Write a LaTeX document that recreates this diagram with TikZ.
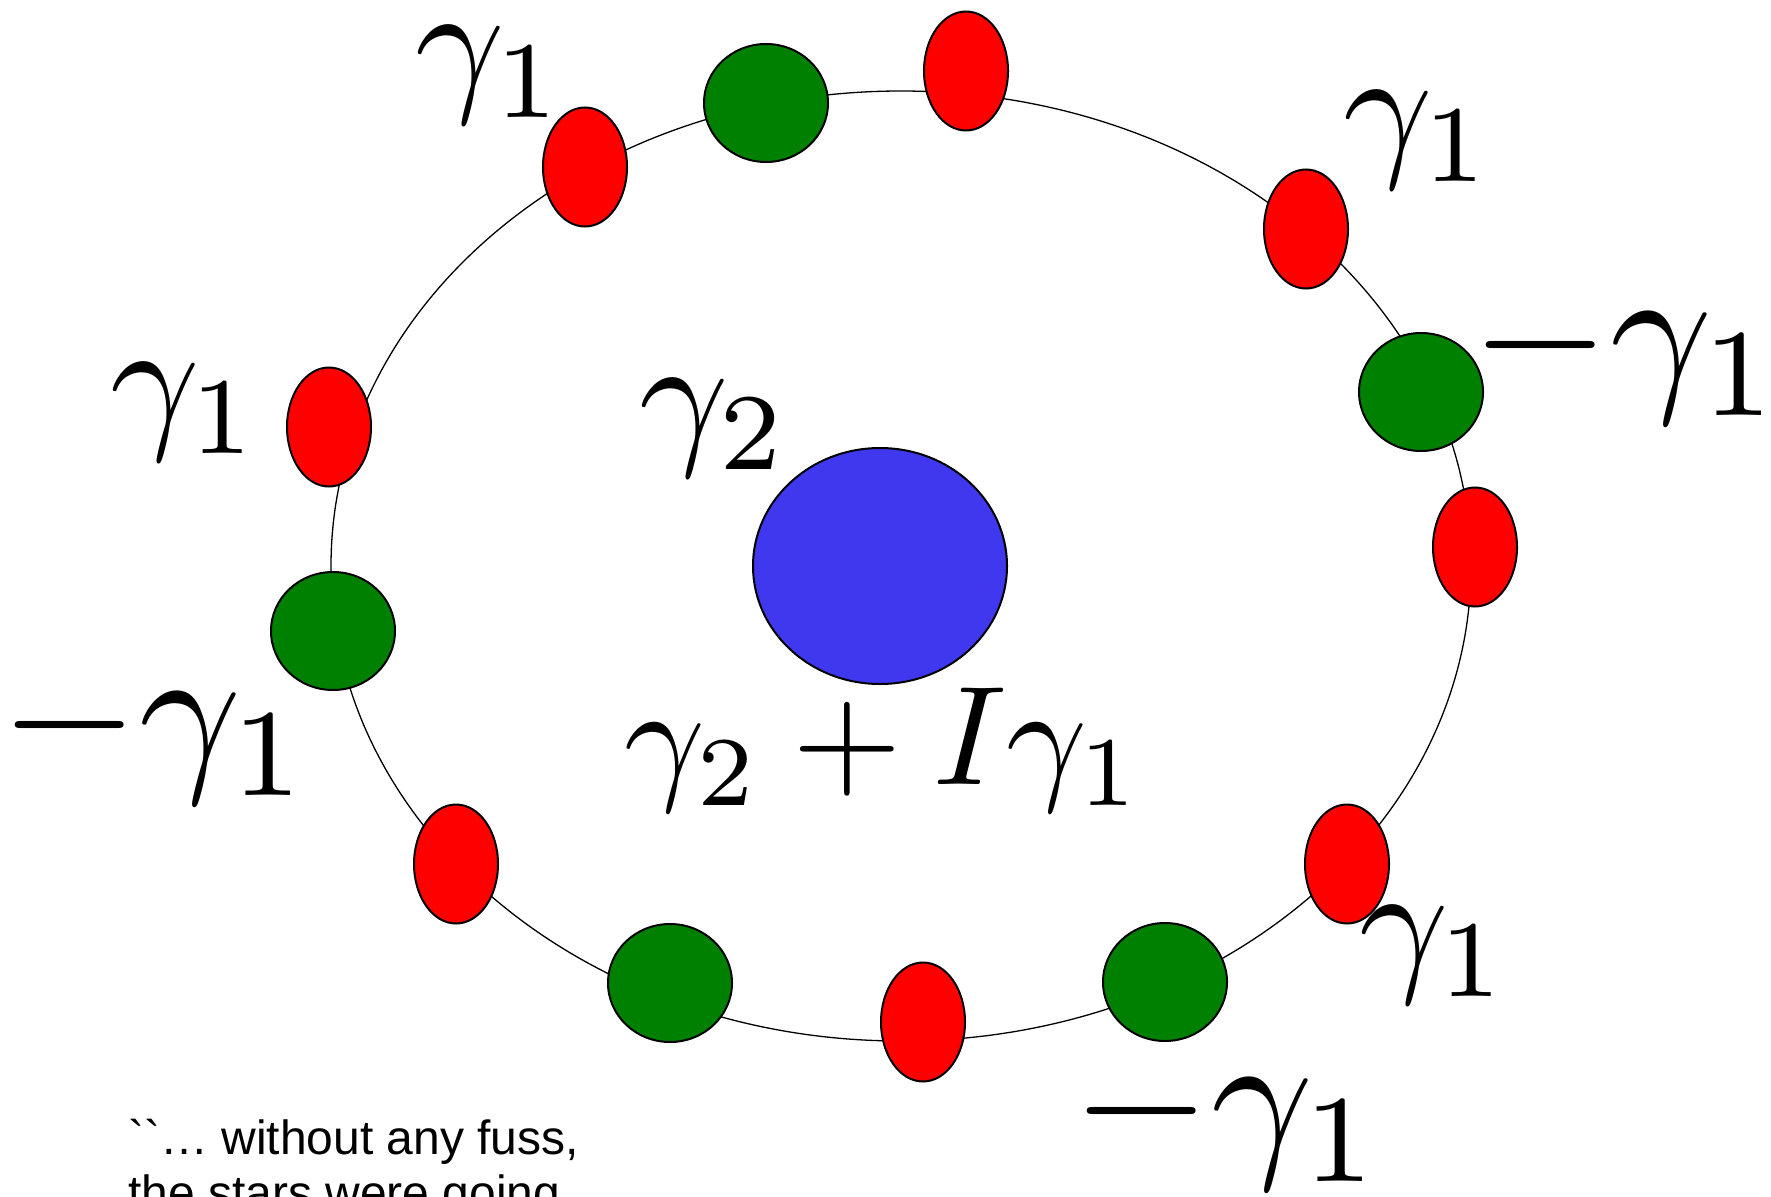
\documentclass[tikz,border=0pt]{standalone}
\usepackage{fontspec}
\newfontfamily\quotefont{Liberation Sans}
\usetikzlibrary{shapes.geometric}
\definecolor{beadred}{RGB}{255,0,0}
\definecolor{beadgreen}{RGB}{0,128,0}
\definecolor{coreblue}{RGB}{64,56,238}
\begin{document}
\begin{tikzpicture}[x=1pt,y=-1pt,
  bead/.style={ellipse, draw=black, line width=2pt, inner sep=0pt},
  redbead/.style={bead, fill=beadred, minimum width=84pt, minimum height=119pt},
  greenbead/.style={bead, fill=beadgreen, minimum width=124pt, minimum height=118pt},
  corebead/.style={bead, fill=coreblue, minimum width=254pt, minimum height=236pt},
  ringline/.style={draw=black, line width=1.3pt},
  glabel/.style={anchor=base west, inner sep=0pt, scale=15.6, transform shape},
  mlabel/.style={anchor=base west, inner sep=0pt, scale=17.8, transform shape},
  clabel/.style={anchor=base west, inner sep=0pt, scale=14.1, transform shape},
  quotetext/.style={anchor=base west, inner sep=0pt, font=\quotefont\fontsize{48}{55}\selectfont}
]
\useasboundingbox (0,0) rectangle (1771,1196);
\clip (0,0) rectangle (1771,1196);

% the ring on which the beads sit
\coordinate (ringcentre) at (901,566);
\draw[ringline] (ringcentre) ellipse [x radius=570, y radius=475];

% beads
\node[redbead] (R1) at (585,167) {};
\node[greenbead] (G1) at (766,103) {};
\node[redbead] (R2) at (966,71) {};
\node[redbead] (R3) at (1306,229) {};
\node[greenbead] (G2) at (1421,392) {};
\node[redbead] (R4) at (1475,547) {};
\node[redbead] (R5) at (1347,864) {};
\node[greenbead] (G3) at (1165,982) {};
\node[redbead] (R6) at (923,1022) {};
\node[greenbead] (G4) at (670,983) {};
\node[redbead] (R7) at (456,864) {};
\node[greenbead] (G5) at (333,631) {};
\node[redbead] (R8) at (329,427) {};

% central charge
\node[corebead] (core) at (880,566) {};

% labels
\node[glabel] (lR1) at (412,94) {$\gamma_1$};
\node[glabel] (lR3) at (1340,158) {$\gamma_1$};
\node[glabel] (lR8) at (107,430) {$\gamma_1$};
\node[glabel] (lR5) at (1356,973) {$\gamma_1$};
\node[glabel] (lcore) at (636,446) {$\gamma_2$};
\node[mlabel] (lG2) at (1468,389) {$-\gamma_1$};
\node[mlabel] (lG5) at (-3,769) {$-\gamma_1$};
\node[mlabel] (lG3) at (1069,1155) {$-\gamma_1$};
\node[clabel] (lsum) at (622,784) {$\gamma_2+I\gamma_1$};

% quotation
\node[quotetext] (q1) at (128,1154) {\char96\char96… without any fuss,};
\node[quotetext] (q2) at (128,1209) {the stars were going};
\end{tikzpicture}
\end{document}
